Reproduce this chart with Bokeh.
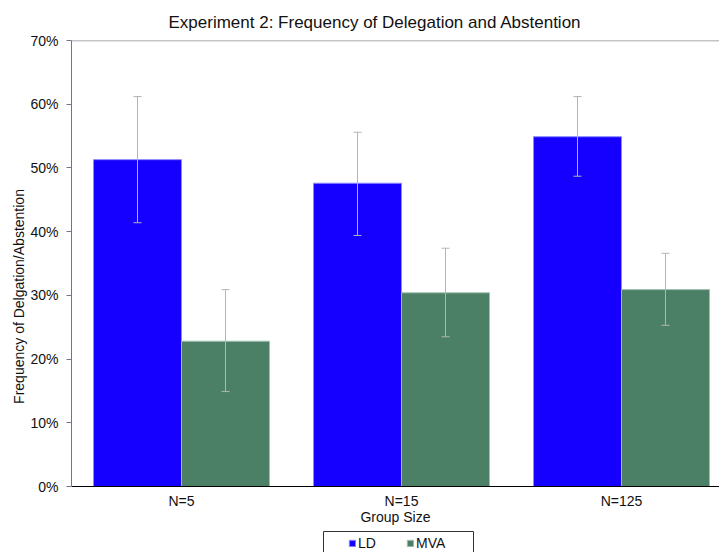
from bokeh.plotting import figure
from bokeh.models import (Range1d, Whisker, ColumnDataSource, NumeralTickFormatter,
                          FixedTicker, Legend, LegendItem, Span, BoxAnnotation)
from bokeh.embed import file_html
from bokeh.resources import INLINE

groups = ["N=5", "N=15", "N=125"]
ld = [0.513, 0.476, 0.549]
ld_lo = [0.414, 0.394, 0.487]
ld_hi = [0.612, 0.556, 0.612]
mva = [0.228, 0.304, 0.309]
mva_lo = [0.149, 0.235, 0.253]
mva_hi = [0.309, 0.374, 0.366]
y_ticks = [0.0, 0.1, 0.2, 0.3, 0.4, 0.5, 0.6, 0.7]

FONT = "Liberation Sans"
LD_COLOR = "#1500ff"
MVA_COLOR = "#4b8066"
ERR_COLOR = "#b4b4b4"
TXT = "#111111"

centers = [i + 0.5 for i in range(len(groups))]
src_ld = ColumnDataSource(dict(x=[c - 0.2 for c in centers], top=ld, lo=ld_lo, hi=ld_hi))
src_mva = ColumnDataSource(dict(x=[c + 0.2 for c in centers], top=mva, lo=mva_lo, hi=mva_hi))

# frame: x 71..719 (220 px per group), y 40..552 with 0% at y=486
p = figure(width=719, height=552, output_backend="svg", toolbar_location=None,
           x_range=Range1d(0, 648 / 220), y_range=Range1d(-66 * 0.7 / 446, 0.7),
           min_border_left=71, min_border_right=0, min_border_top=40, min_border_bottom=0)
p.outline_line_color = None
p.grid.grid_line_color = None

p.title.text = "Experiment 2: Frequency of Delegation and Abstention"
p.title.align = "left"
p.title.offset = 97
p.title.standoff = 18
p.title.text_font = FONT
p.title.text_font_size = "17px"
p.title.text_font_style = "normal"
p.title.text_color = TXT

r_ld = p.vbar(x="x", top="top", width=0.4, source=src_ld, fill_color=LD_COLOR,
              line_color="#8c88ff", line_width=1)
r_mva = p.vbar(x="x", top="top", width=0.4, source=src_mva, fill_color=MVA_COLOR,
               line_color="#9fc0b0", line_width=1)

for s in (src_ld, src_mva):
    w = Whisker(base="x", upper="hi", lower="lo", source=s, line_color=ERR_COLOR,
                line_width=1, level="overlay")
    w.upper_head.size = 8
    w.lower_head.size = 8
    w.upper_head.line_color = ERR_COLOR
    w.lower_head.line_color = ERR_COLOR
    p.add_layout(w)

p.add_layout(Span(location=0.7, dimension="width", line_color="#8a8a8a", line_width=1.5))

# y axis
ya = p.yaxis[0]
ya.bounds = (0, 0.7)
ya.ticker = FixedTicker(ticks=y_ticks)
ya.formatter = NumeralTickFormatter(format="0%")
ya.minor_tick_line_color = None
ya.major_tick_out = 5
ya.major_tick_in = 0
ya.axis_line_color = "#6a7a8e"
ya.major_tick_line_color = "#6a7a8e"
ya.major_label_standoff = 8
ya.major_label_text_font = FONT
ya.major_label_text_font_size = "14px"
ya.major_label_text_color = TXT
ya.axis_label = "Frequency of Delgation/Abstention"
ya.axis_label_text_font = FONT
ya.axis_label_text_font_size = "14px"
ya.axis_label_text_font_style = "normal"
ya.axis_label_text_color = TXT
ya.axis_label_standoff = 0

# x axis, pinned at 0%
xa = p.xaxis[0]
xa.fixed_location = 0
xa.ticker = FixedTicker(ticks=centers)
xa.major_label_overrides = {c: g for c, g in zip(centers, groups)}
xa.major_tick_line_color = None
xa.minor_tick_line_color = None
xa.axis_line_color = "#000000"
xa.major_label_standoff = 0
xa.major_label_text_font = FONT
xa.major_label_text_font_size = "14px"
xa.major_label_text_color = TXT
xa.axis_label = "Group Size"
xa.axis_label_text_font = FONT
xa.axis_label_text_font_size = "14px"
xa.axis_label_text_font_style = "normal"
xa.axis_label_text_color = TXT
xa.axis_label_standoff = -3

# legend frame box (canvas pixels)
p.add_layout(BoxAnnotation(left=323, right=473, top=531, bottom=560,
                           left_units="canvas", right_units="canvas",
                           top_units="canvas", bottom_units="canvas",
                           fill_color=None, fill_alpha=0,
                           line_color="#333333", line_width=1, line_alpha=1))

legend = Legend(items=[LegendItem(label="LD", renderers=[r_ld]),
                       LegendItem(label="MVA", renderers=[r_mva])],
                orientation="horizontal", location=(277, 1),
                glyph_width=8, glyph_height=8, label_height=14, label_width=40,
                label_text_font=FONT, label_text_font_size="14px",
                label_text_color=TXT, label_standoff=2, spacing=8,
                padding=4, margin=0, border_line_color=None,
                background_fill_alpha=0)
p.add_layout(legend)

open("out.html", "w").write(file_html(p, INLINE))
